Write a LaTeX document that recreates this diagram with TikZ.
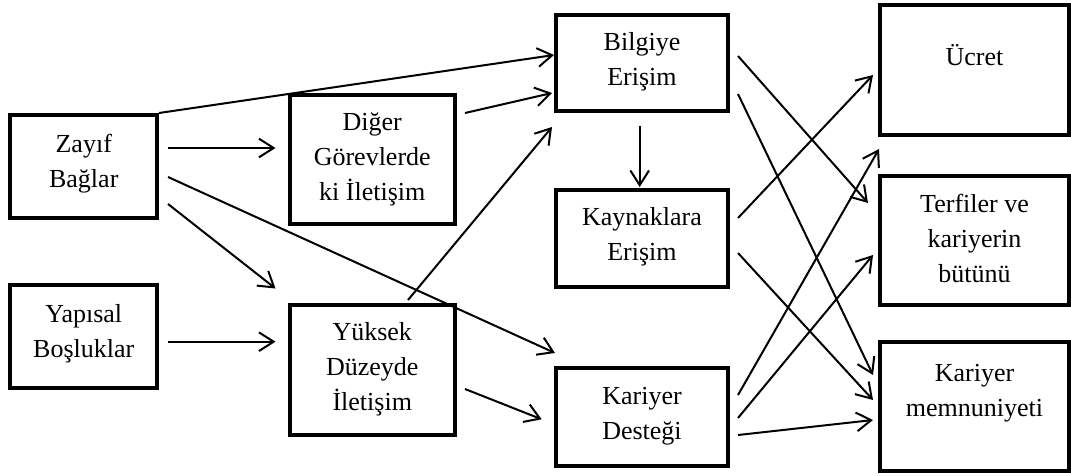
\documentclass[tikz,border=0pt]{standalone}
\usepackage{fontspec}
\setmainfont{Liberation Serif}
\usetikzlibrary{arrows.meta}
\tikzset{
  box/.style={draw, line width=3pt, inner sep=0pt, fill=none},
  txt/.style={anchor=north, inner sep=0pt, align=center, font=\fontsize{19.5pt}{26.25pt}\selectfont},
  arr/.style={line width=1.5pt, -{Straight Barb[length=11pt,width=14pt]}},
  con/.style={line width=1.5pt}
}
\begin{document}
\begin{tikzpicture}[x=0.75pt,y=-0.75pt]
\useasboundingbox (0,0) rectangle (1071,475);
% boxes
\node[box, minimum width=109.9pt, minimum height=77.25pt] (zb) at (83.75,166.5) {};
\node[box, minimum width=109.9pt, minimum height=77.25pt] (yb) at (83.75,336.5) {};
\node[box, minimum width=124.1pt, minimum height=96.75pt] (dg) at (372.25,159.5) {};
\node[box, minimum width=124.1pt, minimum height=97.5pt] (yd) at (372.25,370) {};
\node[box, minimum width=129pt, minimum height=72pt] (be) at (642,63) {};
\node[box, minimum width=129pt, minimum height=72.75pt] (ke) at (642,238.5) {};
\node[box, minimum width=129pt, minimum height=73.5pt] (kd) at (642,417) {};
\node[box, minimum width=141.75pt, minimum height=97.5pt] (uc) at (974.5,70) {};
\node[box, minimum width=141.75pt, minimum height=96.75pt] (tk) at (974.5,240.5) {};
\node[box, minimum width=141.75pt, minimum height=96.75pt] (km) at (974.5,406.5) {};
% texts
\node[txt] (zbt) at (83.75,127.5) {\strut Zayıf\\Bağlar};
\node[txt] (ybt) at (83.75,297.5) {\strut Yapısal\\Boşluklar};
\node[txt] (dgt) at (372.25,105.5) {\strut Diğer\\Görevlerde\\ki İletişim};
\node[txt] (ydt) at (372.25,315.5) {\strut Yüksek\\Düzeyde\\İletişim};
\node[txt] (bet) at (642,25.5) {\strut Bilgiye\\Erişim};
\node[txt] (ket) at (642,200.5) {\strut Kaynaklara\\Erişim};
\node[txt] (kdt) at (642,379.5) {\strut Kariyer\\Desteği};
\node[txt] (uct) at (974.5,40.5) {\strut Ücret};
\node[txt] (tkt) at (974.5,187.5) {\strut Terfiler ve\\kariyerin\\bütünü};
\node[txt] (kmt) at (974.5,357.2) {\strut Kariyer\\memnuniyeti};
% connector end points
\coordinate (zb-be) at (159,113);   \coordinate (be-zb) at (554,55);
\coordinate (zb-dg) at (168,148);   \coordinate (dg-zb) at (275.5,148);
\coordinate (zb-kd) at (168,177);   \coordinate (kd-zb) at (555,353);
\coordinate (zb-yd) at (168,204);   \coordinate (yd-zb) at (275.5,288.5);
\coordinate (dg-be) at (465,113);   \coordinate (be-dg) at (552,93);
\coordinate (yd-be) at (408,300);   \coordinate (be-yd) at (552,127);
\coordinate (yb-yd) at (168,341.7); \coordinate (yd-yb) at (275.5,341.7);
\coordinate (be-ke) at (639.7,126); \coordinate (ke-be) at (639.7,187);
\coordinate (be-tk) at (738,56);    \coordinate (tk-be) at (868,203);
\coordinate (be-km) at (738,94);    \coordinate (km-be) at (873,375);
\coordinate (ke-uc) at (738,218);   \coordinate (uc-ke) at (873,75);
\coordinate (ke-km) at (738,253);   \coordinate (km-ke) at (873,400);
\coordinate (kd-tk1) at (738,395);  \coordinate (tk-kd1) at (879,149);
\coordinate (kd-tk2) at (738,418);  \coordinate (tk-kd2) at (873,255);
\coordinate (kd-km) at (738,435);   \coordinate (km-kd) at (873,420);
\coordinate (yd-kd) at (465,389);   \coordinate (kd-yd) at (541.7,419.3);
% connectors
\draw[arr] (zb-be) -- (be-zb);
\draw[arr] (zb-dg) -- (dg-zb);
\draw[arr] (zb-kd) -- (kd-zb);
\draw[arr] (zb-yd) -- (yd-zb);
\draw[arr] (dg-be) -- (be-dg);
\draw[arr] (yd-be) -- (be-yd);
\draw[arr] (yb-yd) -- (yd-yb);
\draw[arr] (be-ke) -- (ke-be);
\draw[arr] (be-tk) -- (tk-be);
\draw[arr] (be-km) -- (km-be);
\draw[arr] (ke-uc) -- (uc-ke);
\draw[arr] (ke-km) -- (km-ke);
\draw[arr] (kd-tk1) -- (tk-kd1);
\draw[arr] (kd-tk2) -- (tk-kd2);
\draw[arr] (kd-km) -- (km-kd);
\draw[arr] (yd-kd) -- (kd-yd);
\end{tikzpicture}
\end{document}
